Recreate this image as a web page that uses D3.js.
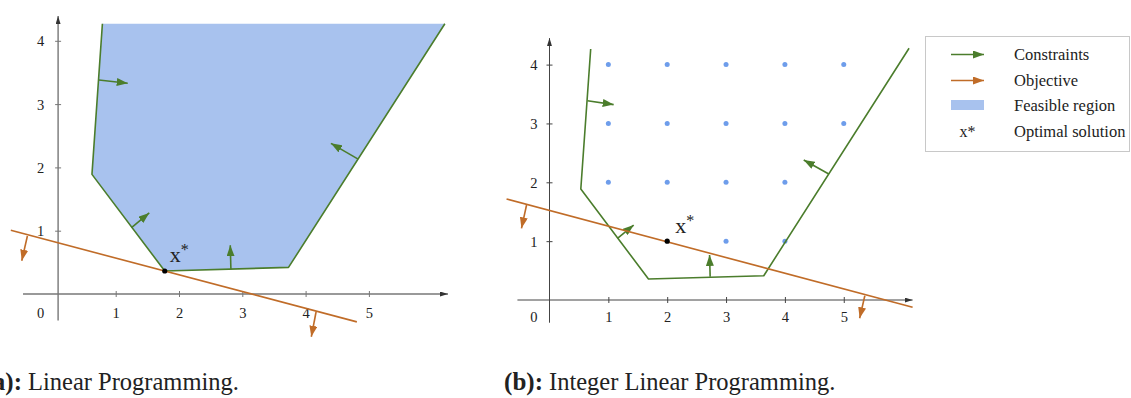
<!DOCTYPE html>
<html>
<head>
<meta charset="utf-8">
<script src="https://cdn.jsdelivr.net/npm/d3@7/dist/d3.min.js"></script>
<style>
  html, body { margin: 0; padding: 0; background: #fff; }
  svg { display: block; }
  text { font-family: "Liberation Serif", "DejaVu Serif", serif; fill: #222; }
</style>
</head>
<body>
<svg id="chart" width="1131" height="398"></svg>
<script>
// ---- (a) Linear programming ----
// Feasible polygon (top edge is the open side of the region)
const regionLP = [[0.79, 4.27], [0.625, 1.89], [1.775, 0.363], [3.73, 0.42], [6.20, 4.27]];
// Inward normals of the constraints: [tail on the edge, head]
const constraintArrowsLP = [
  [[0.735, 3.38], [1.19, 3.33]],
  [[1.25, 1.05], [1.53, 1.28]],
  [[2.82, 0.39], [2.81, 0.77]],
  [[4.83, 2.13], [4.40, 2.38]]
];
const objectiveLP = [[-0.657, 1.006], [4.81, -0.44]];
const objectiveArrowsLP = [[[-0.395, 0.916], [-0.484, 0.526]], [[4.166, -0.28], [4.09, -0.675]]];
const optimumLP = [1.775, 0.363];

// ---- (b) Integer linear programming ----
const regionILP = [[0.70, 4.265], [0.532, 1.886], [1.682, 0.357], [3.641, 0.413], [6.11, 4.277]];
const constraintArrowsILP = [
  [[0.645, 3.387], [1.09, 3.32]],
  [[1.155, 1.048], [1.43, 1.274]],
  [[2.73, 0.396], [2.72, 0.765]],
  [[4.746, 2.14], [4.32, 2.38]]
];
const objectiveILP = [[-0.73, 1.716], [6.17, -0.124]];
const objectiveArrowsILP = [[[-0.39, 1.614], [-0.476, 1.218]], [[5.358, 0.073], [5.27, -0.31]]];
const optimumILP = [2, 1];
// Feasible integer points
const integerPoints = [
  [1, 4], [2, 4], [3, 4], [4, 4], [5, 4],
  [1, 3], [2, 3], [3, 3], [4, 3], [5, 3],
  [1, 2], [2, 2], [3, 2], [4, 2],
  [3, 1], [4, 1]
];

const yTickValues = [1, 2, 3, 4];
const xTickValues = [1, 2, 3, 4, 5];
const legendItems = ["Constraints", "Objective", "Feasible region", "Optimal solution"];
const captions = [["(a):", "Linear Programming."], ["(b):", "Integer Linear Programming."]];

const GREEN = "#4b7d2c";
const ORANGE = "#c06c28";
const FILL = "#a8c2ee";
const DOT = "#6e9deb";

const svg = d3.select("#chart");
const defs = svg.append("defs");

function marker(id, color, len, wid) {
  defs.append("marker")
    .attr("id", id)
    .attr("markerUnits", "userSpaceOnUse")
    .attr("viewBox", `0 ${-wid / 2} ${len} ${wid}`)
    .attr("refX", len).attr("refY", 0)
    .attr("markerWidth", len).attr("markerHeight", wid)
    .attr("orient", "auto")
    .append("path")
    .attr("d", `M0,${-wid / 2}L${len},0L0,${wid / 2}Z`)
    .attr("fill", color);
}
marker("arrowGreen", GREEN, 11, 8);
marker("arrowOrange", ORANGE, 11, 8);
marker("arrowAxis", "#333", 8, 5);

const line = (x, y) => d3.line().x(d => x(d[0])).y(d => y(d[1]));

function panel(o) {
  const x = d3.scaleLinear().domain([0, 1]).range([o.ox, o.ox + o.unit]);
  const y = d3.scaleLinear().domain([0, 1]).range([o.oy, o.oy - o.unit]);
  const g = svg.append("g");

  if (o.fill) {
    g.append("path")
      .attr("d", line(x, y)(o.region) + "Z")
      .attr("fill", FILL);
  }

  // axes (the vertical axis crosses at x = o.yAxisAt)
  g.append("line")
    .attr("x1", x(o.xExt[0])).attr("x2", x(o.xExt[1]))
    .attr("y1", y(0)).attr("y2", y(0))
    .attr("stroke", o.axisColor).attr("stroke-width", o.axisWidth)
    .attr("marker-end", "url(#arrowAxis)");
  g.append("line")
    .attr("x1", x(o.yAxisAt)).attr("x2", x(o.yAxisAt))
    .attr("y1", y(o.yExt[0])).attr("y2", y(o.yExt[1]))
    .attr("stroke", o.axisColor).attr("stroke-width", o.axisWidth)
    .attr("marker-end", "url(#arrowAxis)");

  const gx = g.append("g")
    .attr("transform", `translate(0,${y(0)})`)
    .call(d3.axisBottom(x).tickValues(xTickValues).tickSize(6).tickFormat(d3.format("d")));
  gx.select(".domain").remove();
  gx.selectAll(".tick line").attr("y1", -3).attr("y2", 3).attr("stroke", o.axisColor);
  gx.selectAll(".tick text")
    .attr("y", y(o.xLabelAt) - y(0)).attr("dy", "0.35em")
    .attr("font-size", 14.5).attr("font-family", "Liberation Serif").attr("fill", "#222");

  const gy = g.append("g")
    .attr("transform", `translate(${x(o.yAxisAt)},0)`)
    .call(d3.axisLeft(y).tickValues(yTickValues).tickSize(6).tickFormat(d3.format("d")));
  gy.select(".domain").remove();
  gy.selectAll(".tick line").attr("x1", -3).attr("x2", 3).attr("stroke", o.axisColor);
  gy.selectAll(".tick text")
    .attr("x", x(o.yLabelAt) - x(o.yAxisAt)).attr("dy", "0.35em")
    .attr("text-anchor", "middle")
    .attr("font-size", 14.5).attr("font-family", "Liberation Serif").attr("fill", "#222");

  g.append("text")
    .attr("x", x(o.yLabelAt)).attr("y", y(o.xLabelAt))
    .attr("dy", "0.35em").attr("text-anchor", "middle")
    .attr("font-size", 14.5).text("0");

  if (o.points) {
    g.selectAll("circle.pt").data(o.points).join("circle")
      .attr("class", "pt")
      .attr("cx", d => x(d[0])).attr("cy", d => y(d[1]))
      .attr("r", 2.5).attr("fill", DOT);
  }

  // constraint boundary (open at the top)
  g.append("path")
    .attr("d", line(x, y)(o.region))
    .attr("fill", "none").attr("stroke", GREEN).attr("stroke-width", 1.6)
    .attr("stroke-linejoin", "round");
  g.selectAll("path.carrow").data(o.constraintArrows).join("path")
    .attr("class", "carrow")
    .attr("d", line(x, y))
    .attr("stroke", GREEN).attr("stroke-width", 1.6).attr("fill", "none")
    .attr("marker-end", "url(#arrowGreen)");

  // objective
  g.append("path")
    .attr("d", line(x, y)(o.objective))
    .attr("fill", "none").attr("stroke", ORANGE).attr("stroke-width", 1.6);
  g.selectAll("path.oarrow").data(o.objectiveArrows).join("path")
    .attr("class", "oarrow")
    .attr("d", line(x, y))
    .attr("stroke", ORANGE).attr("stroke-width", 1.6).attr("fill", "none")
    .attr("marker-end", "url(#arrowOrange)");

  // optimum
  g.append("circle")
    .attr("cx", x(o.optimum[0])).attr("cy", y(o.optimum[1]))
    .attr("r", 2.6).attr("fill", "#000");
  const lbl = g.append("text")
    .attr("x", x(o.optimum[0]) + o.starDx).attr("y", y(o.optimum[1]) - o.starDy)
    .attr("font-size", 22);
  lbl.append("tspan").text("x");
  lbl.append("tspan").attr("font-size", 16).attr("dy", -7).text("*");

  // caption
  svg.append("text")
    .attr("x", o.capX).attr("y", 390)
    .attr("text-anchor", "end").attr("font-weight", "bold")
    .attr("font-size", 25).text(o.caption[0]);
  svg.append("text")
    .attr("x", o.capX + 6).attr("y", 390)
    .attr("font-size", 24.5).text(o.caption[1]);
}

panel({
  ox: 52.4, oy: 294, unit: 63.3, yAxisAt: 0.09,
  xExt: [-0.464, 6.25], yExt: [-0.42, 4.39], xLabelAt: -0.295, yLabelAt: -0.185,
  axisColor: "#777", axisWidth: 1.4,
  fill: true, points: null,
  region: regionLP, constraintArrows: constraintArrowsLP,
  objective: objectiveLP, objectiveArrows: objectiveArrowsLP,
  optimum: optimumLP, starDx: 5, starDy: 9,
  caption: captions[0], capX: 22
});

panel({
  ox: 549.5, oy: 300, unit: 58.85, yAxisAt: 0,
  xExt: [-0.545, 6.17], yExt: [-0.386, 4.45], xLabelAt: -0.294, yLabelAt: -0.267,
  axisColor: "#444", axisWidth: 1,
  fill: false, points: integerPoints,
  region: regionILP, constraintArrows: constraintArrowsILP,
  objective: objectiveILP, objectiveArrows: objectiveArrowsILP,
  optimum: optimumILP, starDx: 8, starDy: 8,
  caption: captions[1], capX: 543
});

// legend
const lg = svg.append("g");
lg.append("rect")
  .attr("x", 925.5).attr("y", 36.5).attr("width", 204).attr("height", 115)
  .attr("fill", "#fff").attr("stroke", "#c8c8c8").attr("stroke-width", 1);
const rowY = [54.5, 80.5, 105, 131.5];
lg.append("line").attr("x1", 951).attr("x2", 984).attr("y1", rowY[0]).attr("y2", rowY[0])
  .attr("stroke", GREEN).attr("stroke-width", 1.6).attr("marker-end", "url(#arrowGreen)");
lg.append("line").attr("x1", 951).attr("x2", 984).attr("y1", rowY[1]).attr("y2", rowY[1])
  .attr("stroke", ORANGE).attr("stroke-width", 1.6).attr("marker-end", "url(#arrowOrange)");
lg.append("rect").attr("x", 951).attr("y", rowY[2] - 5).attr("width", 33).attr("height", 10)
  .attr("fill", FILL);
lg.append("text").attr("x", 967.5).attr("y", rowY[3]).attr("dy", "0.35em")
  .attr("text-anchor", "middle").attr("font-size", 16).text("x*");
lg.selectAll("text.item").data(legendItems).join("text")
  .attr("class", "item")
  .attr("x", 1014).attr("y", (d, i) => rowY[i]).attr("dy", "0.35em")
  .attr("font-size", 16.5).text(d => d);
</script>
</body>
</html>
